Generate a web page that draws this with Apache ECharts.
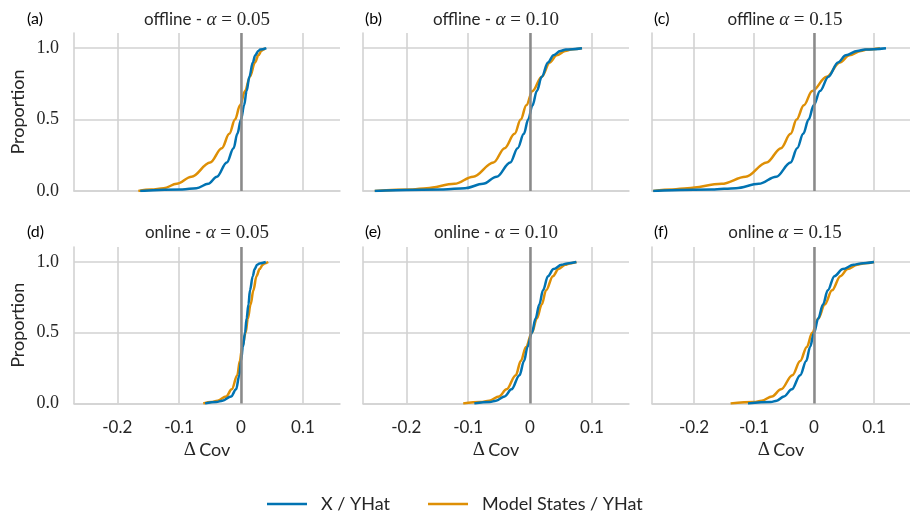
<!DOCTYPE html>
<html>
<head>
<meta charset="utf-8">
<script src="https://cdn.jsdelivr.net/npm/echarts@6/dist/echarts.min.js"></script>
<style>
  html, body { margin: 0; padding: 0; background: #ffffff; }
  #chart { width: 910px; height: 514px; }
</style>
</head>
<body>
<div id="chart"></div>
<script>
// Cumulative proportion levels shared by every ECDF curve
const proportion = [0, 0.01, 0.02, 0.05, 0.1, 0.2, 0.3, 0.4, 0.5, 0.6, 0.7, 0.8, 0.9, 0.95, 0.98, 0.99, 1];

// Δ Cov quantiles at each proportion level, per panel
const aX     = [-0.163, -0.095, -0.072, -0.053, -0.039, -0.023, -0.012, -0.006, 0.000, 0.005, 0.009, 0.0135, 0.019, 0.023, 0.028, 0.031, 0.041];
const aModel = [-0.166, -0.145, -0.125, -0.104, -0.080, -0.050, -0.031, -0.019, -0.0097, -0.0016, 0.0065, 0.0145, 0.0226, 0.028, 0.033, 0.036, 0.039];
const bX     = [-0.251, -0.140, -0.105, -0.076, -0.054, -0.032, -0.020, -0.010, -0.003, 0.004, 0.011, 0.019, 0.029, 0.038, 0.049, 0.058, 0.084];
const bModel = [-0.251, -0.190, -0.167, -0.122, -0.092, -0.059, -0.041, -0.025, -0.015, -0.006, 0.004, 0.019, 0.032, 0.043, 0.057, 0.066, 0.084];
const cX     = [-0.268, -0.170, -0.130, -0.092, -0.063, -0.039, -0.028, -0.018, -0.009, -0.0005, 0.010, 0.024, 0.040, 0.053, 0.072, 0.085, 0.120];
const cModel = [-0.268, -0.235, -0.211, -0.154, -0.114, -0.079, -0.055, -0.039, -0.029, -0.017, -0.003, 0.021, 0.043, 0.059, 0.078, 0.088, 0.110];
const dX     = [-0.058, -0.040, -0.030, -0.016, -0.008, -0.0027, 0.000, 0.003, 0.0065, 0.009, 0.012, 0.0145, 0.019, 0.022, 0.026, 0.030, 0.040];
const dModel = [-0.061, -0.048, -0.038, -0.024, -0.015, -0.006, -0.002, 0.002, 0.0075, 0.011, 0.0155, 0.020, 0.025, 0.030, 0.035, 0.038, 0.044];
const eX     = [-0.090, -0.065, -0.055, -0.041, -0.030, -0.017, -0.0097, -0.004, 0.003, 0.009, 0.015, 0.021, 0.029, 0.038, 0.051, 0.060, 0.075];
const eModel = [-0.108, -0.080, -0.066, -0.050, -0.038, -0.023, -0.015, -0.0065, 0.003, 0.011, 0.019, 0.026, 0.037, 0.046, 0.057, 0.064, 0.075];
const fX     = [-0.110, -0.072, -0.062, -0.050, -0.037, -0.023, -0.013, -0.0065, 0.000, 0.007, 0.015, 0.023, 0.034, 0.048, 0.066, 0.078, 0.100];
const fModel = [-0.139, -0.100, -0.087, -0.070, -0.055, -0.036, -0.023, -0.012, -0.003, 0.007, 0.018, 0.030, 0.044, 0.056, 0.072, 0.082, 0.100];

// Panel titles
const panelLetters = ['(a)', '(b)', '(c)', '(d)', '(e)', '(f)'];
const panelPrefix  = ['offline - ', 'offline - ', 'offline ', 'online - ', 'online - ', 'online '];
const panelAlpha   = ['0.05', '0.10', '0.15', '0.05', '0.10', '0.15'];

// Axis ticks
const xTicks = [-0.2, -0.1, 0, 0.1];
const xTickLabels = ['-0.2', '-0.1', '0', '0.1'];
const yTicks = [0, 0.5, 1.0];
const yTickLabels = ['0.0', '0.5', '1.0'];

const seriesNames = ['X / YHat', 'Model States / YHat'];
const panelCurves = [[aX, aModel], [bX, bModel], [cX, cModel], [dX, dModel], [eX, eModel], [fX, fModel]];

const BLUE = '#0173b2';
const ORANGE = '#de8f05';
const GRID_COLOR = '#d2d2d2';
const TEXT = '#262626';
const SANS = 'Lato, "Liberation Sans", sans-serif';
const SERIF = '"Liberation Serif", "DejaVu Serif", serif';

const colLeft = [74, 363, 652];
const rowTop = [33, 247];
const rowHeight = [158, 156.5];
const panelWidth = 266;

const grids = [], xAxes = [], yAxes = [], series = [], graphics = [];

for (let p = 0; p < 6; p++) {
  const r = Math.floor(p / 3), c = p % 3;
  grids.push({ left: colLeft[c], top: rowTop[r], width: panelWidth, height: rowHeight[r], containLabel: false });

  xAxes.push({
    type: 'value', gridIndex: p, min: -0.27, max: 0.16,
    axisLine: { show: true, onZero: false, lineStyle: { color: GRID_COLOR, width: 1.6 } },
    axisTick: { show: false, customValues: xTicks },
    splitLine: { show: true, lineStyle: { color: GRID_COLOR, width: 1.6 } },
    axisLabel: {
      show: r === 1, customValues: xTicks, margin: 16,
      fontFamily: SANS, fontSize: 17, color: TEXT,
      formatter: v => xTickLabels[xTicks.findIndex(t => Math.abs(t - v) < 1e-9)] ?? ''
    },
    name: r === 1 ? '{m|Δ} {s|Cov}' : '',
    nameLocation: 'middle', nameGap: 37,
    nameTextStyle: {
      rich: {
        m: { fontFamily: SERIF, fontSize: 19, color: TEXT },
        s: { fontFamily: SANS, fontSize: 18, color: TEXT }
      }
    }
  });

  yAxes.push({
    type: 'value', gridIndex: p, min: 0, max: 1.106,
    axisLine: { show: true, onZero: false, lineStyle: { color: GRID_COLOR, width: 1.6 } },
    axisTick: { show: false, customValues: yTicks },
    splitLine: { show: true, lineStyle: { color: GRID_COLOR, width: 1.6 } },
    axisLabel: {
      show: c === 0, customValues: yTicks, margin: 15,
      fontFamily: SERIF, fontSize: 18, color: TEXT,
      formatter: v => yTickLabels[yTicks.findIndex(t => Math.abs(t - v) < 1e-9)] ?? ''
    },
    name: c === 0 ? 'Proportion' : '',
    nameLocation: 'middle', nameGap: 47, nameRotate: 90,
    nameTextStyle: { fontFamily: SANS, fontSize: 18, color: TEXT }
  });

  // zero reference line
  series.push({
    type: 'line', xAxisIndex: p, yAxisIndex: p, data: [], z: 1, silent: true,
    markLine: {
      silent: true, symbol: ['none', 'none'], label: { show: false },
      lineStyle: { color: '#8a8a8a', width: 2.5, type: 'solid' },
      emphasis: { disabled: true },
      data: [{ xAxis: 0 }]
    }
  });

  const curves = panelCurves[p];
  [BLUE, ORANGE].forEach((color, k) => {
    series.push({
      name: seriesNames[k], type: 'line', xAxisIndex: p, yAxisIndex: p,
      data: curves[k].map((x, i) => [x, proportion[i]]),
      showSymbol: false, smooth: 0.35, smoothMonotone: 'x',
      lineStyle: { color, width: 2.5 }, itemStyle: { color },
      z: k === 0 ? 3 : 2, silent: true, animation: false
    });
  });

  const cx = colLeft[c] + panelWidth / 2;
  const ty = r === 0 ? 20 : 233;
  graphics.push({
    type: 'text', x: cx, y: ty,
    style: {
      text: '{s|' + panelPrefix[p] + '}{m|α}{n| = ' + panelAlpha[p] + '}',
      align: 'center', verticalAlign: 'middle',
      rich: {
        s: { fontFamily: SANS, fontSize: 17, fill: TEXT },
        m: { fontFamily: SERIF, fontSize: 19, fontStyle: 'italic', fill: TEXT },
        n: { fontFamily: SERIF, fontSize: 19, fill: TEXT }
      }
    }
  });
  graphics.push({
    type: 'text', x: c === 0 ? 27 : colLeft[c] + 2, y: ty - 1,
    style: { text: panelLetters[p], fontFamily: SANS, fontSize: 16, fill: '#000000', align: 'left', verticalAlign: 'middle' }
  });
}

const chart = echarts.init(document.getElementById('chart'), null, { renderer: 'canvas' });
chart.setOption({
  backgroundColor: '#ffffff',
  animation: false,
  grid: grids,
  xAxis: xAxes,
  yAxis: yAxes,
  series: series,
  graphic: graphics,
  legend: {
    data: seriesNames.map((n, k) => ({ name: n, icon: 'rect', itemStyle: { color: k === 0 ? BLUE : ORANGE } })),
    left: 262, top: 490,
    itemWidth: 40, itemHeight: 2.5, itemGap: 38,
    textStyle: { fontFamily: SANS, fontSize: 18, color: TEXT, padding: [0, 0, 0, 9] }
  }
});
</script>
</body>
</html>
